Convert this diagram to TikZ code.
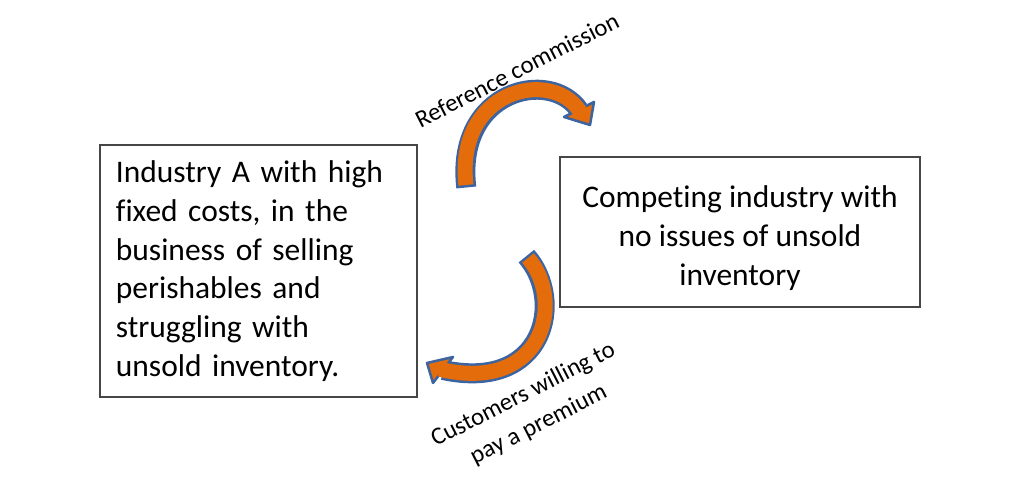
\documentclass[tikz,border=0pt]{standalone}
\usepackage{fontspec}
\setmainfont{Carlito}[Ligatures=NoCommon]
\usepackage{xcolor}
\usepackage{tikz}
\usetikzlibrary{positioning}
\definecolor{ArrOrange}{RGB}{228,108,10}
\definecolor{ArrBlue}{RGB}{60,100,160}
\definecolor{BoxLine}{RGB}{70,70,70}

\begin{document}
\begin{tikzpicture}[
  x=0.01cm, y=-0.01cm,
  panel/.style={draw=BoxLine, line width=0.45pt, inner sep=0.16cm,
                font=\fontsize{8.95}{11}\selectfont},
  note/.style={font=\fontsize{7}{9.6}\selectfont, align=center, inner sep=0pt, rotate=27},
  bandout/.style={draw=ArrBlue, line width=0.2cm, shorten <=-0.025cm},
  bandin/.style={draw=ArrOrange, line width=0.15cm},
  tiphead/.style={fill=ArrOrange, draw=ArrBlue, line width=0.025cm, line join=round},
]
  \useasboundingbox (0,0) rectangle (1024,480);

  % the two industries
  \node[panel, text width=2.85cm, minimum height=2.52cm, align=left] (indA) at (258.5,271)
    {Industry A with high\\fixed costs, in the\\business of selling\\perishables and\\struggling with\\unsold inventory.};
  \node[panel, minimum width=3.6cm, minimum height=1.5cm, align=center] (rival) at (740,232)
    {\rule{0pt}{9.7pt}Competing industry with\\no issues of unsold\\inventory};

  % curved arrow on top
  \coordinate (refTail) at (466,185);
  \coordinate (refHead) at (579,110);
  \draw[bandout] (refTail) .. controls (455,90) and (550,68) .. (refHead);
  \filldraw[tiphead] (564,117) -- (594,102) -- (590,125) -- cycle;
  \draw[bandin] (refTail) .. controls (455,90) and (550,68) .. (refHead) -- ++(2,3);

  % curved arrow below
  \coordinate (custTail) at (528,258);
  \coordinate (custHead) at (443,370);
  \draw[bandout] (custTail) .. controls (565,300) and (545,392) .. (custHead);
  \filldraw[tiphead] (453,357) -- (433,383) -- (427,363) -- cycle;
  \draw[bandin] (custTail) .. controls (565,300) and (545,392) .. (custHead) -- ++(-3,-1);

  % labels on the arrows
  \node[note] (refLbl) at (517,70) {Reference commission};
  \node[note] (custLbl) at (531,410) {Customers willing to\\pay a premium};
\end{tikzpicture}
\end{document}
